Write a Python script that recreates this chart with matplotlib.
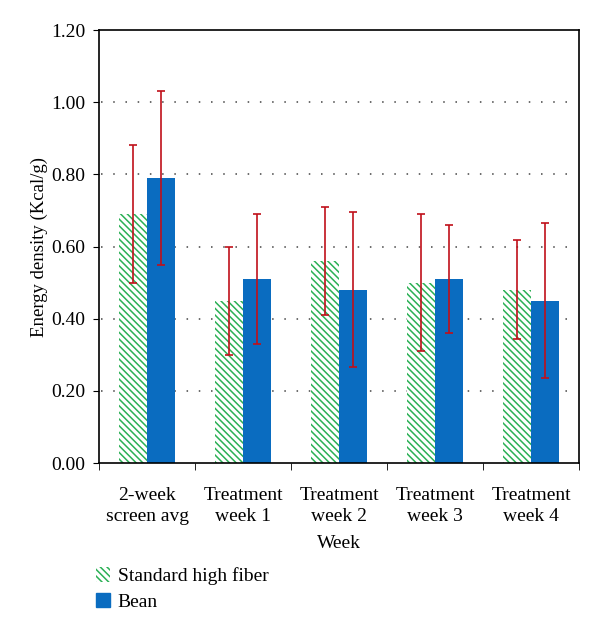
import matplotlib.pyplot as plt
import matplotlib.patches as mpatches
import numpy as np

plt.rcParams['font.family'] = ['Liberation Serif', 'DejaVu Serif']
plt.rcParams['hatch.linewidth'] = 1.1

# data
weeks = ['2-week\nscreen avg', 'Treatment\nweek 1', 'Treatment\nweek 2',
         'Treatment\nweek 3', 'Treatment\nweek 4']
standard = [0.69, 0.45, 0.56, 0.50, 0.48]
standard_err = [0.19, 0.15, 0.15, 0.19, 0.137]
bean = [0.79, 0.51, 0.48, 0.51, 0.45]
bean_err = [0.24, 0.18, 0.215, 0.15, 0.215]
yticks = [0.0, 0.2, 0.4, 0.6, 0.8, 1.0, 1.2]

green = '#2bb055'
blue = '#0a6cc0'
red = '#c0101a'
fs = 14

fig = plt.figure(figsize=(6, 6.32), dpi=100)
ax = fig.add_axes([0.165, 0.2674, 0.8, 0.6851])

x = np.arange(len(weeks))
w = 0.29
hatch = '\\' * 5
ax.bar(x - w / 2, standard, w, facecolor='white', edgecolor=green, hatch=hatch,
       linewidth=0, zorder=2)
ax.bar(x + w / 2, bean, w, color=blue, zorder=2)
ax.errorbar(x - w / 2, standard, yerr=standard_err, fmt='none', ecolor=red,
            elinewidth=1.2, capsize=3, capthick=1.2, zorder=3)
ax.errorbar(x + w / 2, bean, yerr=bean_err, fmt='none', ecolor=red,
            elinewidth=1.2, capsize=3, capthick=1.2, zorder=3)

ax.set_xlim(-0.5, len(weeks) - 0.5)
ax.set_ylim(0, 1.2)
ax.set_yticks(yticks)
ax.set_yticklabels(['%.2f' % v for v in yticks], fontsize=fs)
for v in yticks[1:-1]:
    ax.plot([-0.48, len(weeks) - 0.55], [v, v], linestyle=(0, (1, 7)),
            color='#444444', linewidth=1.1, zorder=1)

ax.set_xticks(np.arange(len(weeks) + 1) - 0.5, minor=True)
ax.set_xticks(x)
ax.set_xticklabels(weeks, fontsize=fs, linespacing=1.35)
ax.tick_params(axis='x', which='major', length=0, pad=17)
ax.tick_params(axis='x', which='minor', length=5, direction='out')
ax.tick_params(axis='y', length=4, direction='out', pad=6)
for s in ax.spines.values():
    s.set_linewidth(1.2)

ax.set_xlabel('Week', fontsize=fs, labelpad=7)
ax.set_ylabel('Energy density (Kcal/g)', fontsize=13.5, labelpad=2)

handles = [mpatches.Patch(facecolor='white', edgecolor=green, hatch=hatch, linewidth=0),
           mpatches.Patch(color=blue)]
fig.legend(handles, ['Standard high fiber', 'Bean'], loc='upper left',
           bbox_to_anchor=(0.13, 0.13), frameon=False, fontsize=fs,
           handlelength=0.75, handleheight=0.75, handletextpad=0.4, labelspacing=0.4)

fig.savefig('out.png', dpi=100)
